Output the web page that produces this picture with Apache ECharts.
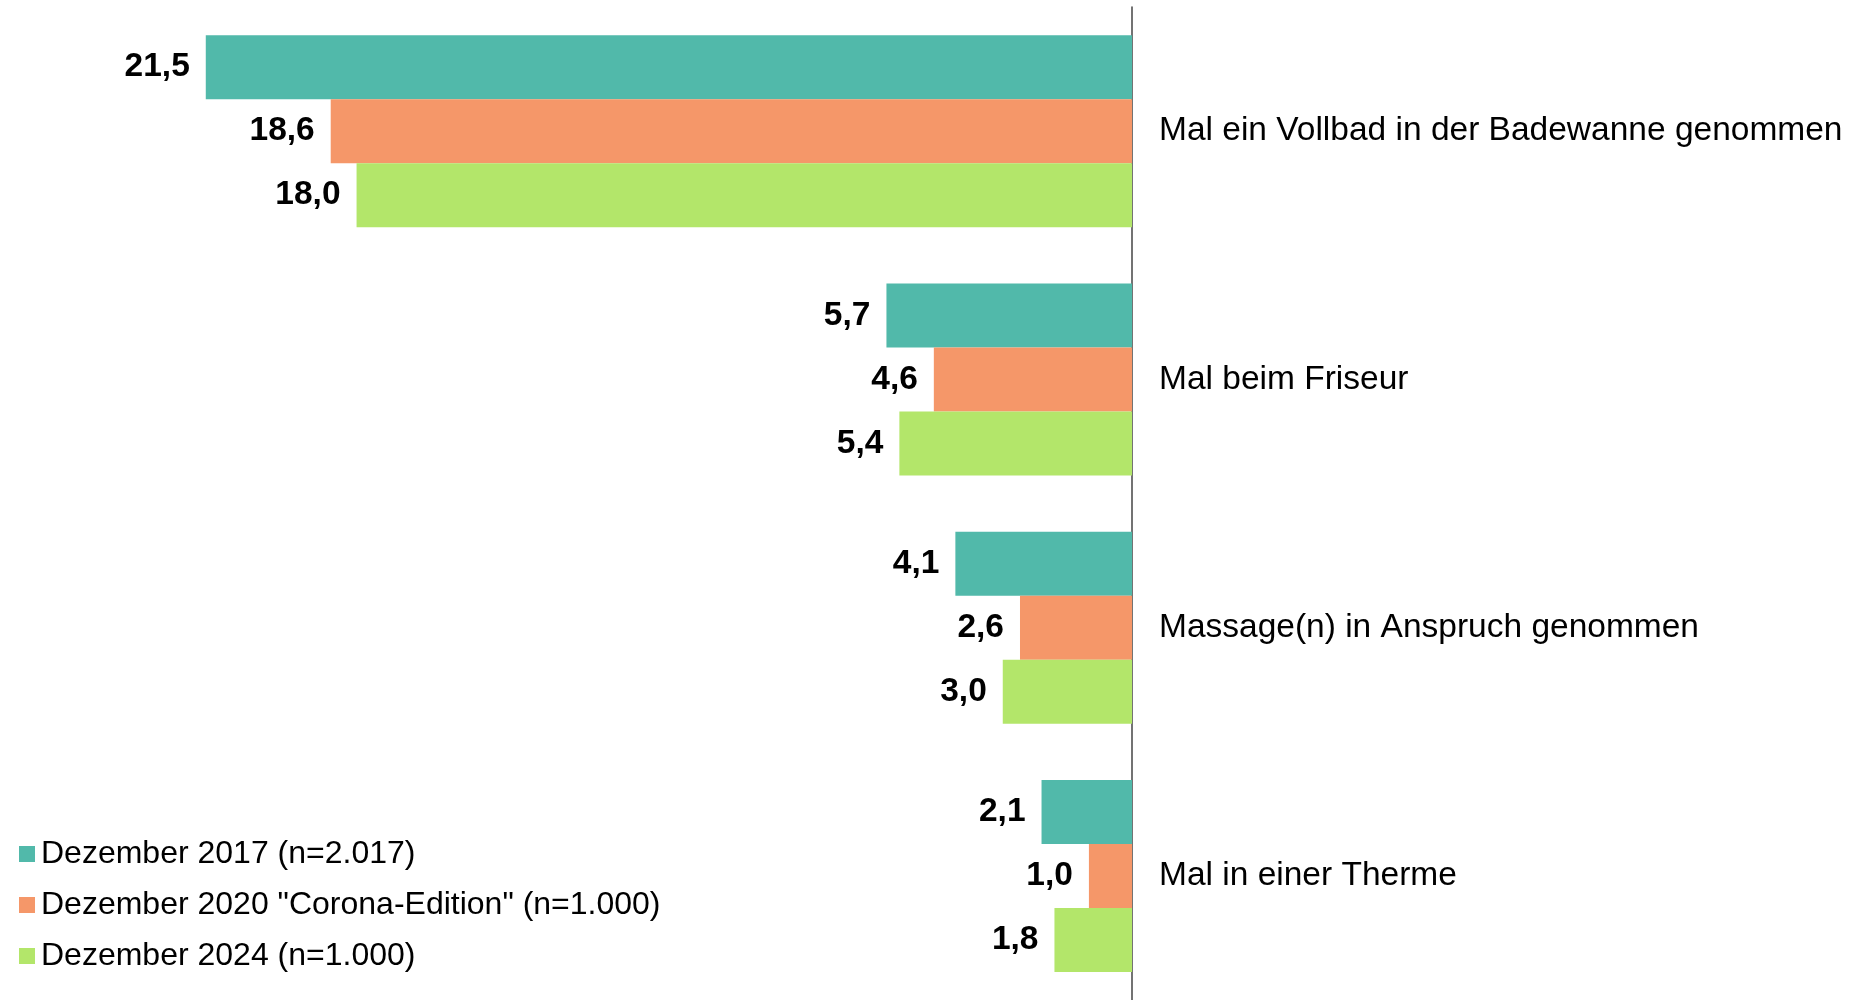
<!DOCTYPE html>
<html>
<head>
<meta charset="UTF-8">
<title>Wellness</title>
<script src="https://cdn.jsdelivr.net/npm/echarts@6/dist/echarts.min.js"></script>
<style>
  html, body { margin: 0; padding: 0; background: #fff; }
  #main { width: 1855px; height: 1000px; }
</style>
</head>
<body>
<div id="main"></div>
<script>
// Kategorien (von oben nach unten)
var categories = [
  'Mal ein Vollbad in der Badewanne genommen',
  'Mal beim Friseur',
  'Massage(n) in Anspruch genommen',
  'Mal in einer Therme'
];
var seriesNames = [
  'Dezember 2017 (n=2.017)',
  'Dezember 2020 "Corona-Edition" (n=1.000)',
  'Dezember 2024 (n=1.000)'
];
var values2017 = [21.5, 5.7, 4.1, 2.1];
var values2020 = [18.6, 4.6, 2.6, 1.0];
var values2024 = [18.0, 5.4, 3.0, 1.8];
var colors = ['#51b9aa', '#f59769', '#b3e66a'];

var font = 'Arial, "Liberation Sans", sans-serif';

function makeSeries(name, data, color) {
  return {
    name: name,
    type: 'bar',
    data: data,
    barWidth: 64,
    barGap: '0%',
    itemStyle: { color: color },
    label: {
      show: true,
      position: 'left',
      distance: 16,
      fontFamily: font,
      fontSize: 33.5,
      fontWeight: 'bold',
      color: '#000',
      padding: [3, 0, 0, 0],
      formatter: function (p) { return p.value.toFixed(1).replace('.', ','); }
    }
  };
}

var chart = echarts.init(document.getElementById('main'));
chart.setOption({
  animation: false,
  color: colors,
  legend: {
    orient: 'vertical',
    left: 14,
    top: 831,
    itemWidth: 16,
    itemHeight: 16,
    itemGap: 15,
    icon: 'rect',
    textStyle: { fontFamily: font, fontSize: 32, color: '#000', lineHeight: 36, padding: [0, 0, 0, 1] },
    data: seriesNames
  },
  grid: { left: 55, right: 723, top: 7, bottom: -6 },
  xAxis: {
    type: 'value',
    inverse: true,
    min: 0,
    max: 25,
    show: false
  },
  yAxis: {
    type: 'category',
    inverse: true,
    position: 'right',
    data: categories,
    axisLine: { show: true, lineStyle: { color: '#444', width: 1.5 } },
    axisTick: { show: false },
    axisLabel: {
      margin: 27,
      fontFamily: font,
      fontSize: 33.5,
      color: '#000',
      padding: [3, 0, 0, 0]
    }
  },
  series: [
    makeSeries(seriesNames[0], values2017, colors[0]),
    makeSeries(seriesNames[1], values2020, colors[1]),
    makeSeries(seriesNames[2], values2024, colors[2])
  ]
});
</script>
</body>
</html>
